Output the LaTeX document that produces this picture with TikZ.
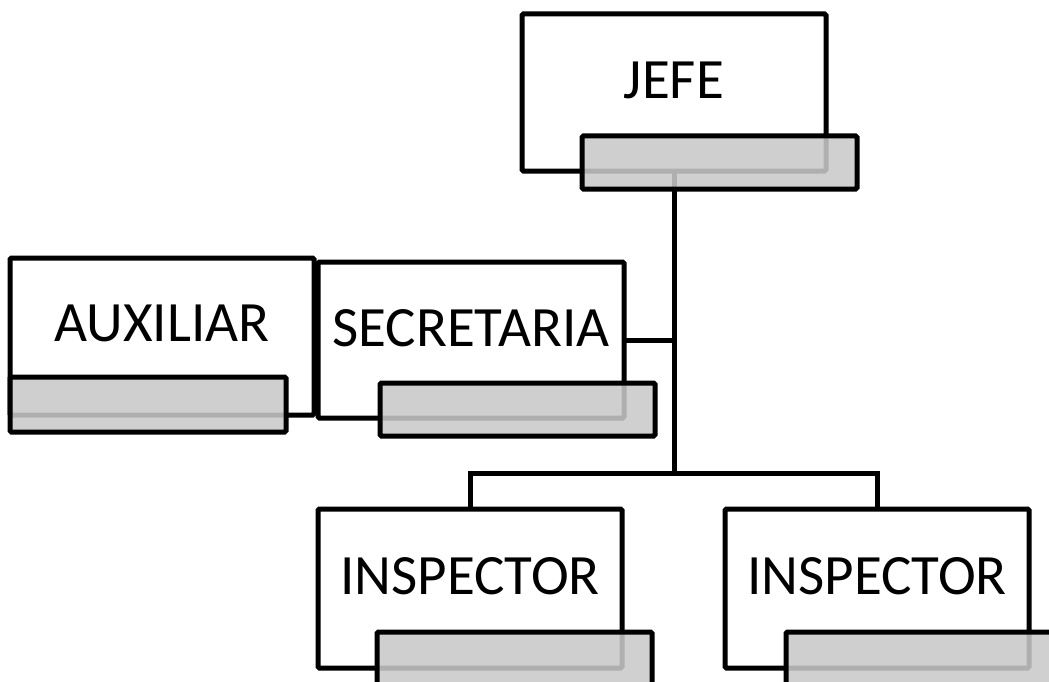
\documentclass[tikz,border=0pt]{standalone}
\usepackage{fontspec}
\setmainfont{Carlito}
\usepackage{xcolor}
\definecolor{barragris}{RGB}{201,201,201}
\tikzset{
  caja/.style={draw,rectangle,fill=white,line width=5pt,minimum width=304pt,minimum height=157pt,inner sep=0pt,outer sep=0pt,anchor=north west,rounded corners=1.5pt},
  barra/.style={draw,rectangle,fill=barragris,fill opacity=0.875,line width=5pt,minimum width=275pt,minimum height=53pt,inner sep=0pt,outer sep=0pt,anchor=north west,rounded corners=1.5pt},
  texto/.style={font=\fontsize{57}{60}\selectfont,inner sep=0pt},
  linea/.style={line width=5pt}
}
\begin{document}
\begin{tikzpicture}[x=1pt,y=-1pt]
\useasboundingbox (0,0) rectangle (1049,682);
\clip (0,0) rectangle (1049,682);
% cajas
\node[caja] (jefe) at (522,14) {};
\node[caja] (aux) at (10,258) {};
\node[caja,minimum width=306pt,minimum height=156pt] (secre) at (318,262) {};
\node[caja,minimum height=159pt] (insp1) at (318,509) {};
\node[caja,minimum height=159pt] (insp2) at (725,509) {};
% textos
\node[texto] (jefetxt) at ([yshift=12pt]jefe.center) {JEFE};
\node[texto] (auxtxt) at ([yshift=13pt]aux.center) {AUXILIAR};
\node[texto] (secretxt) at ([yshift=12pt]secre.center) {SECRETARIA};
\node[texto] (insp1txt) at ([yshift=12pt]insp1.center) {INSPECTOR};
\node[texto] (insp2txt) at ([yshift=12pt]insp2.center) {INSPECTOR};
% lineas
\coordinate (rama) at (674,473);
\draw[linea] (jefe.south) -- (rama);
\draw[linea] (insp1.north) |- (rama) -| (insp2.north);
\draw[linea] (secre.east) -- (secre.east -| rama);
% barras
\node[barra] (jefebar) at ([xshift=60pt,yshift=35pt]jefe.south west) {};
\node[barra,minimum width=276pt,minimum height=55pt] (auxbar) at ([yshift=38pt]aux.south west) {};
\node[barra] (secrebar) at ([xshift=62pt,yshift=35pt]secre.south west) {};
\node[barra] (insp1bar) at ([xshift=59pt,yshift=36pt]insp1.south west) {};
\node[barra] (insp2bar) at ([xshift=61pt,yshift=36pt]insp2.south west) {};
\end{tikzpicture}
\end{document}
